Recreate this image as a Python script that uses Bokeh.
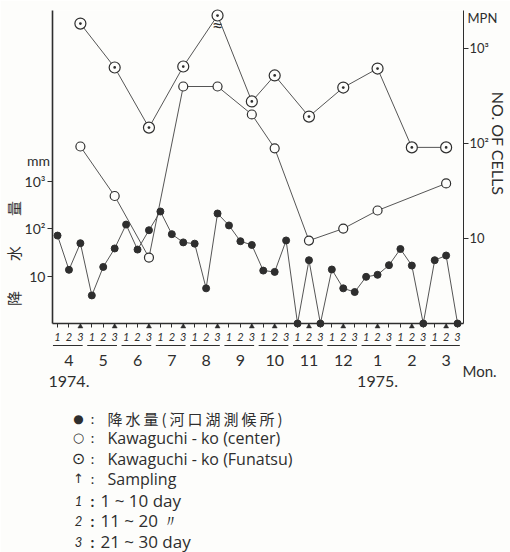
import numpy as np
from bokeh.plotting import figure
from bokeh.models import (Range1d, LogAxis, LinearAxis, FixedTicker, CustomJSTickFormatter,
                          LogScale, LinearScale)
from bokeh.core.properties import value
from bokeh.embed import file_html
from bokeh.resources import INLINE

# ---------------- data ----------------
months = ["4", "5", "6", "7", "8", "9", "10", "11", "12", "1", "2", "3"]
decade_labels = ["1", "2", "3"]
# precipitation per ten-day period (mm), Apr 1974 - Mar 1975 (0 = none)
precip_mm = [71, 13.5, 49, 3.9, 15.5, 38, 121, 36, 92, 228, 76, 51,
             48, 5.5, 207, 116, 54, 45, 13, 12.2, 56, 0, 21.5, 0,
             13.7, 5.5, 4.6, 9.6, 10.6, 16.9, 37, 16.6, 0, 21.5, 27, 0]
# sampling ten-day index (0 = Apr 1-10)
sampling_idx = [2, 5, 8, 11, 14, 17, 19, 22, 25, 28, 31, 34]
center_idx = [2, 5, 8, 11, 14, 17, 19, 22, 25, 28, 34]
center_cells = [93, 28, 6.3, 398, 398, 202, 89, 9.5, 12.7, 19.7, 38]
funatsu_cells = [1830, 631, 147, 646, 2225, 277, 520, 192, 388, 615, 91, 91]
off_scale_idx = 14          # Funatsu value above the axis break
years = ["1974.", "1975."]
year_month_pos = [0, 9]

INK = "#2e2e2e"
LINE = "#555555"
BG = "#fdfdfb"
FONT = "Lato"
LFONT = "Open Sans"
JFONT = "Noto Sans CJK JP"

p = figure(width=510, height=552, x_range=Range1d(-0.44, 35.52),
           y_range=Range1d(1, 10 ** (313 / 47.5)), y_axis_type="log",
           output_backend="svg", toolbar_location=None,
           min_border_left=52, min_border_right=47, min_border_top=10, min_border_bottom=229)
p.outline_line_color = None
p.grid.visible = False
p.background_fill_color = BG
p.border_fill_color = BG

p.extra_y_ranges = {"cells": Range1d(10 ** 0.105, 10 ** 3.4), "px": Range1d(0, 313)}
p.extra_y_scales = {"cells": LogScale(), "px": LinearScale()}
p.extra_x_ranges = {"pxx": Range1d(0, 411)}
p.extra_x_scales = {"pxx": LinearScale()}

# precipitation
xs = list(range(len(precip_mm)))
bottom = p.y_range.start
precip_plot = [v if v > 0 else bottom for v in precip_mm]
p.line(xs, precip_plot, line_color=LINE, line_width=1)

# cells
p.line(center_idx, center_cells, y_range_name="cells", line_color=LINE, line_width=1)
p.line(sampling_idx, funatsu_cells, y_range_name="cells", line_color=LINE, line_width=1)
p.scatter(center_idx, center_cells, y_range_name="cells", marker="circle", size=9,
          fill_color=BG, line_color=INK, line_width=1.2)
p.scatter(sampling_idx, funatsu_cells, y_range_name="cells", marker="circle_dot", size=11,
          fill_color=BG, line_color=INK, line_width=1.2, level="overlay")
p.scatter(xs, precip_plot, marker="circle", size=7, fill_color=INK, line_color=INK,
          level="overlay")

exp_code = ("const e = Math.round(Math.log10(tick));"
            "return e == 1 ? '10' : '10' + ['', '', '\u00b2', '\u00b3'][e];")

ya = p.yaxis[0]
ya.ticker = FixedTicker(ticks=[10, 100, 1000], minor_ticks=[])
ya.formatter = CustomJSTickFormatter(code=exp_code)
ra = LogAxis(y_range_name="cells", ticker=FixedTicker(ticks=[10, 100, 1000], minor_ticks=[]),
             formatter=CustomJSTickFormatter(code=exp_code))
p.add_layout(ra, "right")
for ax, lw in ((ya, 1.6), (ra, 1.0)):
    ax.major_tick_out = 5
    ax.major_tick_in = 0
    ax.minor_tick_out = 0
    ax.minor_tick_in = 0
    ax.axis_line_width = lw
    ax.axis_line_color = INK
    ax.major_tick_line_color = INK
    ax.major_label_text_font = FONT
    ax.major_label_text_font_size = "14px"
    ax.major_label_text_color = INK
    ax.major_label_standoff = 2
ra.major_label_text_font_size = "13px"
ra.major_label_standoff = 1

xa = p.xaxis[0]
xa.ticker = FixedTicker(ticks=xs, minor_ticks=[])
xa.formatter = CustomJSTickFormatter(args=dict(labels=decade_labels),
                                     code="return labels[Math.round(tick) % labels.length];")
xa.major_tick_out = 4
xa.major_tick_in = 0
xa.axis_line_width = 1.4
xa.axis_line_color = INK
xa.major_tick_line_color = INK
xa.major_label_text_font = FONT
xa.major_label_text_font_style = "italic"
xa.major_label_text_font_size = "11px"
xa.major_label_text_color = INK
xa.major_label_standoff = 5

ma = LinearAxis(ticker=FixedTicker(ticks=[3 * i + 1 for i in range(len(months))], minor_ticks=[]),
                formatter=CustomJSTickFormatter(args=dict(labels=months),
                                                code="return labels[Math.round((tick - 1) / 3)];"))
ma.axis_line_color = None
ma.major_tick_line_color = None
ma.minor_tick_line_color = None
ma.major_label_text_font = FONT
ma.major_label_text_font_size = "16px"
ma.major_label_text_color = INK
ma.major_label_standoff = 5
p.add_layout(ma, "below")


def txt(text, x, y, xr="default", size="15px", align="left", angle=0.0,
        style="normal", font=FONT, baseline="middle", color=INK):
    p.text(x=[x], y=[y], text=[text], x_range_name=xr, y_range_name="px",
           text_font=value(font), text_font_size=size, text_align=align,
           text_baseline=baseline, angle=angle, text_font_style=style,
           text_color=color, level="overlay")


# sampling arrows on the time axis
p.scatter(x=sampling_idx, y=[-3] * len(sampling_idx), y_range_name="px",
          marker="triangle", size=5, fill_color=INK, line_color=INK, line_width=0.5,
          level="overlay")

# underlines of the decade groups
p.segment(x0=[3 * g - 0.4 for g in range(len(months))], y0=[-22] * len(months),
          x1=[3 * g + 2.2 for g in range(len(months))], y1=[-22] * len(months),
          y_range_name="px", line_color=INK, line_width=1, level="overlay")

# axis break on the off-scale value
txt("\u2248", off_scale_idx, 299, size="20px", align="center", xr="default")

for yr, m in zip(years, year_month_pos):
    txt(yr, 3 * m + 1, -58, size="16px", align="center")
txt("Mon.", 410, -47, xr="pxx", size="15px")

# axis titles
txt("mm", -14, 163, xr="pxx", size="14px", align="center")
txt("\u964d\u3000\u3000\u6c34\u3000\u3000\u91cf", -39, 70, xr="pxx", size="15px",
    align="center", angle=np.pi / 2, font=JFONT)
txt("MPN", 415, 306, xr="pxx", size="13px")
txt("NO. OF CELLS", 446, 180, xr="pxx", size="16px", align="center", angle=-np.pi / 2)

# legend
lx_sym, lx_col, lx_txt = 26, 40, 55
jp_legend = "\u2009".join("\u964d\u6c34\u91cf(\u6cb3\u53e3\u6e56\u6e2c\u5019\u6240)")
rows = [("\u25cf", "12px", jp_legend, JFONT, "15px", -95),
        ("\u25cb", "13px", "Kawaguchi - ko (center)", LFONT, "16px", -114),
        ("\u2299", "16px", "Kawaguchi - ko (Funatsu)", LFONT, "16px", -135),
        ("\u2191", "13px", "Sampling", LFONT, "16px", -155)]
for sym, ss, t, f, s, y in rows:
    txt(sym, lx_sym, y, xr="pxx", size=ss, align="center", font="DejaVu Sans")
    txt(":", lx_col, y, xr="pxx", size="14px", align="center")
    txt(t, lx_txt, y, xr="pxx", size=s, font=f)
drows = [("1", "1 ~ 10 day", -177), ("2", "11 ~ 20  \u3003", -197), ("3", "21 ~ 30 day", -218)]
for d, t, y in drows:
    txt(d, lx_sym, y, xr="pxx", size="13px", align="center", style="italic")
    txt(":", lx_col, y, xr="pxx", size="15px", align="center", style="bold")
    txt(t, 48, y, xr="pxx", size="17px", font=LFONT)

open("out.html", "w").write(file_html(p, INLINE))
